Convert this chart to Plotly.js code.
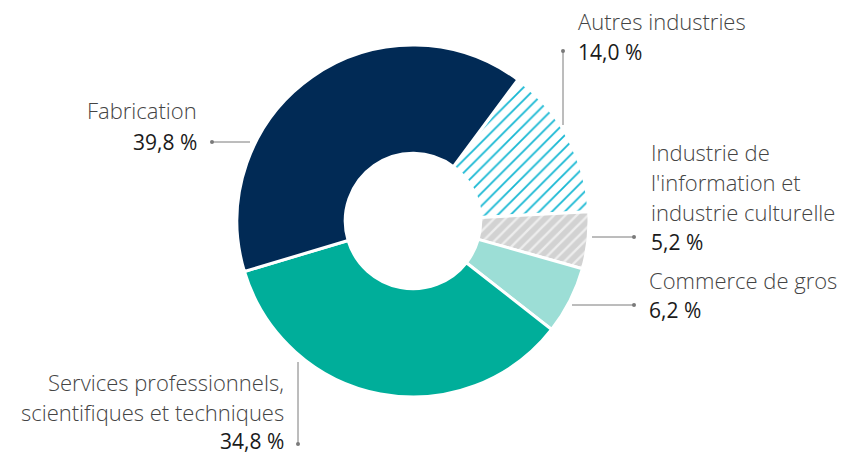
<!DOCTYPE html>
<html>
<head>
<meta charset="utf-8">
<script src="https://cdn.plot.ly/plotly-3.0.1.min.js"></script>
<style>html,body{margin:0;padding:0;background:#fff;}#chart{width:856px;height:456px;}</style>
</head>
<body>
<div id="chart"></div>
<script>
// ---- data ----
const categories = ["Autres industries", "Industrie de l'information et industrie culturelle", "Commerce de gros", "Services professionnels, scientifiques et techniques", "Fabrication"];
const shares = [14.0, 5.2, 6.2, 34.8, 39.8];
const valueLabels = ["14,0 %", "5,2 %", "6,2 %", "34,8 %", "39,8 %"];
const labelLines = [
  ["Autres industries"],
  ["Industrie de", "l'information et", "industrie culturelle"],
  ["Commerce de gros"],
  ["Services professionnels,", "scientifiques et techniques"],
  ["Fabrication"]
];

// ---- styling / layout ----
const W = 856, H = 456;
const colors = ["#ffffff", "#d4d4d4", "#9cded6", "#00ae9a", "#012a55"];
const patterns = [
  {shape: "/", fgcolor: "#17b8d3", bgcolor: "#ffffff", size: 9, solidity: 0.2},
  {shape: "/", fgcolor: "#ededed", bgcolor: "#d2d2d2", size: 8, solidity: 0.3},
  {shape: ""}, {shape: ""}, {shape: ""}
];
const cx = 413, cy = 221, R = 176;
const px = x => x / W, py = y => 1 - y / H;

// label placement per slice (pixels)
const placements = [
  {x: 576, align: "left",  y0: 21,  gap: 31, lead: [[563, 125], [563, 51]]},
  {x: 649, align: "left",  y0: 152, gap: 30, lead: [[592, 237], [634, 237]]},
  {x: 647, align: "left",  y0: 280, gap: 30, lead: [[572, 305], [634, 305]]},
  {x: 286, align: "right", y0: 382, gap: 29.5, lead: [[298, 362], [298, 444]]},
  {x: 199, align: "right", y0: 110, gap: 32, lead: [[250, 142], [212, 142]]}
];

const rotation = 90 - shares[0] * 3.6 - 3;

const trace = {
  type: "pie",
  values: shares,
  labels: categories,
  sort: false,
  direction: "clockwise",
  rotation: rotation,
  hole: 0.385,
  textinfo: "none",
  hoverinfo: "label+percent",
  domain: {x: [px(cx - R), px(cx + R)], y: [py(cy + R), py(cy - R)]},
  marker: {
    colors: colors,
    line: {color: "#ffffff", width: 3},
    pattern: {
      shape: patterns.map(p => p.shape),
      fgcolor: patterns.map(p => p.fgcolor || "#000"),
      bgcolor: patterns.map(p => p.bgcolor || "rgba(0,0,0,0)"),
      size: patterns.map(p => p.size || 8),
      solidity: patterns.map(p => p.solidity || 0.3),
      fillmode: "replace"
    }
  },
  showlegend: false
};

const annotations = [];
const shapes = [];
placements.forEach((p, i) => {
  const lines = labelLines[i].map(t => ({t: t, c: "#444444", w: 300, s: 22}));
  lines.push({t: valueLabels[i], c: "#1a1a1a", w: 400, s: 21});
  lines.forEach((ln, k) => {
    annotations.push({
      xref: "paper", yref: "paper",
      x: px(p.x), y: py(p.y0 + k * p.gap),
      xanchor: p.align, yanchor: "middle",
      text: ln.t, showarrow: false,
      font: {family: "Open Sans, sans-serif", size: ln.s, weight: ln.w, color: ln.c}
    });
  });
  const [a, b] = p.lead;
  shapes.push({type: "line", xref: "paper", yref: "paper",
    x0: px(a[0]), y0: py(a[1]), x1: px(b[0]), y1: py(b[1]),
    line: {color: "#7a7a7a", width: 1}});
  shapes.push({type: "circle", xref: "paper", yref: "paper",
    x0: px(b[0] - 2), x1: px(b[0] + 2), y0: py(b[1] + 2), y1: py(b[1] - 2),
    fillcolor: "#7a7a7a", line: {width: 0}});
});

const layout = {
  width: W, height: H,
  margin: {l: 0, r: 0, t: 0, b: 0},
  paper_bgcolor: "#ffffff",
  plot_bgcolor: "#ffffff",
  annotations: annotations,
  shapes: shapes
};

Plotly.newPlot("chart", [trace], layout, {displayModeBar: false, staticPlot: true});
</script>
</body>
</html>
